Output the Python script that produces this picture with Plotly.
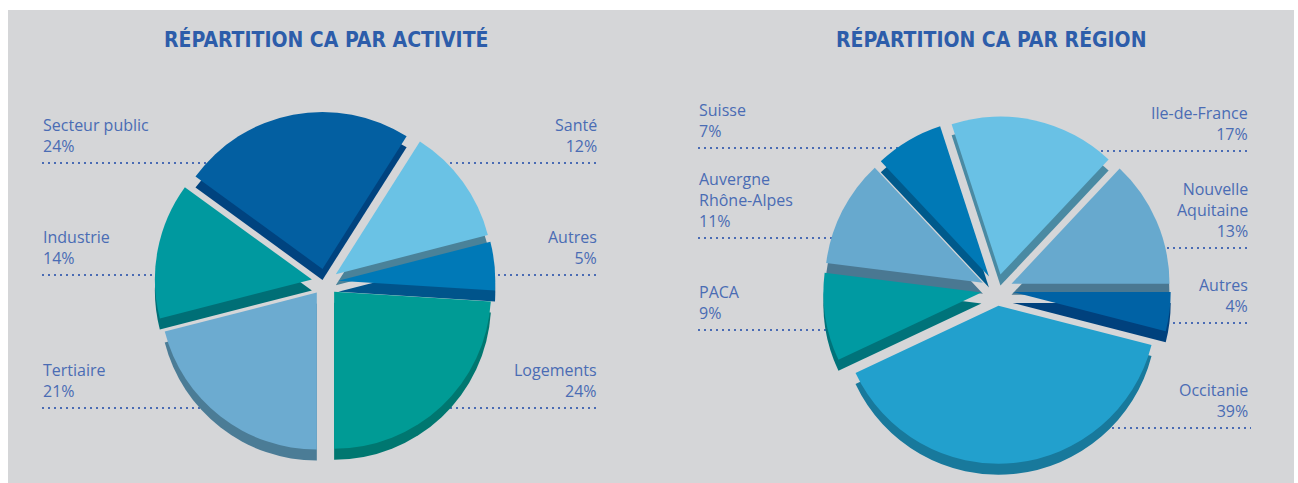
import plotly.graph_objects as go

W, H = 1298, 483

# ---- data ----
act_labels = ["Secteur public", "Santé", "Autres", "Logements", "Tertiaire", "Industrie"]
act_values = [24, 12, 5, 24, 21, 14]
act_top = ["#035fa1", "#6ac2e5", "#0079b7", "#009b95", "#6cabd0", "#00999f"]
act_side = ["#00437f", "#4a8299", "#00548b", "#007770", "#4b7c96", "#006f76"]

reg_labels = ["Ile-de-France", "Nouvelle Aquitaine", "Autres", "Occitanie", "PACA",
              "Auvergne Rhône-Alpes", "Suisse"]
reg_values = [17, 13, 4, 39, 9, 11, 7]
reg_top = ["#69c1e5", "#67a9ce", "#0062a5", "#22a0cd", "#009aa2", "#67a9ce", "#0079b6"]
reg_side = ["#4a8aa3", "#4a7892", "#00417d", "#18799c", "#00737a", "#4a7892", "#005a8c"]

act_text = {"Secteur public": "Secteur public<br>24%", "Industrie": "Industrie<br>14%",
            "Tertiaire": "Tertiaire<br>21%", "Santé": "Santé<br>12%",
            "Autres": "Autres<br>5%", "Logements": "Logements<br>24%"}
reg_text = {"Suisse": "Suisse<br>7%", "Auvergne Rhône-Alpes": "Auvergne<br>Rhône-Alpes<br>11%",
            "PACA": "PACA<br>9%", "Ile-de-France": "Ile-de-France<br>17%",
            "Nouvelle Aquitaine": "Nouvelle<br>Aquitaine<br>13%", "Autres": "Autres<br>4%",
            "Occitanie": "Occitanie<br>39%"}

# ---- styling / positions (pixels) ----
BG = "#d5d6d8"
TXT = "#4a6cb4"
TITLE = "#2d5daa"
FONT = "Open Sans"

def px(x):
    return x / W

def py(y):
    return 1 - y / H

def pie_domain(cx, cy, r, pull, dy=0):
    half = r * (1 + pull)
    return dict(x=[px(cx - half), px(cx + half)],
                y=[py(cy + dy + half), py(cy + dy - half)])

fig = go.Figure()

LEFT = dict(cx=325, cy=282, r=157, pull=0.085, rot=-54)
RIGHT = dict(cx=997, cy=290, r=158, pull=0.1, rot=-18)
DEPTH = 11

for cfg, labels, values, top, side in [
    (LEFT, act_labels, act_values, act_top, act_side),
    (RIGHT, reg_labels, reg_values, reg_top, reg_side),
]:
    for colors, dy in [(side, DEPTH), (top, 0)]:
        fig.add_trace(go.Pie(
            labels=labels, values=values, sort=False, direction="clockwise",
            rotation=cfg["rot"], pull=cfg["pull"],
            marker=dict(colors=colors, line=dict(width=0)),
            textinfo="none", hoverinfo="skip", showlegend=False,
            domain=pie_domain(cfg["cx"], cfg["cy"], cfg["r"], cfg["pull"], dy),
        ))

shapes = [dict(type="rect", xref="paper", yref="paper", x0=px(8), x1=px(1294),
               y0=0, y1=py(10), fillcolor=BG, line=dict(width=0), layer="below")]

# (label key, side, text x, line y, line x0, line x1)
act_pos = [
    ("Secteur public", "left", 41, 163, 42, 215),
    ("Industrie", "left", 41, 275, 42, 180),
    ("Tertiaire", "left", 41, 408, 42, 205),
    ("Santé", "right", 599, 163, 450, 600),
    ("Autres", "right", 599, 275, 480, 600),
    ("Logements", "right", 599, 408, 450, 600),
]
reg_pos = [
    ("Suisse", "left", 697, 148, 698, 905),
    ("Auvergne Rhône-Alpes", "left", 697, 238, 698, 850),
    ("PACA", "left", 697, 330, 698, 845),
    ("Ile-de-France", "right", 1250, 151, 1095, 1251),
    ("Nouvelle Aquitaine", "right", 1250, 248, 1155, 1251),
    ("Autres", "right", 1250, 323, 1155, 1251),
    ("Occitanie", "right", 1250, 428, 1100, 1251),
]

annotations = [
    dict(text="<b>RÉPARTITION CA PAR ACTIVITÉ</b>", x=px(326), y=py(40), xref="paper",
         yref="paper", showarrow=False, xanchor="center", yanchor="middle",
         font=dict(family="DejaVu Sans Condensed", size=21, color=TITLE)),
    dict(text="<b>RÉPARTITION CA PAR RÉGION</b>", x=px(991), y=py(40), xref="paper",
         yref="paper", showarrow=False, xanchor="center", yanchor="middle",
         font=dict(family="DejaVu Sans Condensed", size=21, color=TITLE)),
]

for texts, positions in [(act_text, act_pos), (reg_text, reg_pos)]:
    for key, side, tx, ly, lx0, lx1 in positions:
        shapes.append(dict(type="line", xref="paper", yref="paper",
                           x0=px(lx0), x1=px(lx1), y0=py(ly), y1=py(ly),
                           line=dict(color=TXT, width=2, dash="2px,4px"), layer="below"))
        annotations.append(dict(
            text=texts[key], x=px(tx), y=py(ly - 4), xref="paper", yref="paper",
            showarrow=False, xanchor="left" if side == "left" else "right",
            yanchor="bottom", align=side,
            font=dict(family=FONT, size=16, color=TXT)))

fig.update_layout(
    width=W, height=H, margin=dict(l=0, r=0, t=0, b=0),
    paper_bgcolor="white", plot_bgcolor="white",
    shapes=shapes, annotations=annotations, showlegend=False,
)

fig.write_html("out.html", config={"displayModeBar": False},
               post_script="document.body.style.margin='0';document.body.style.overflow='hidden';")
